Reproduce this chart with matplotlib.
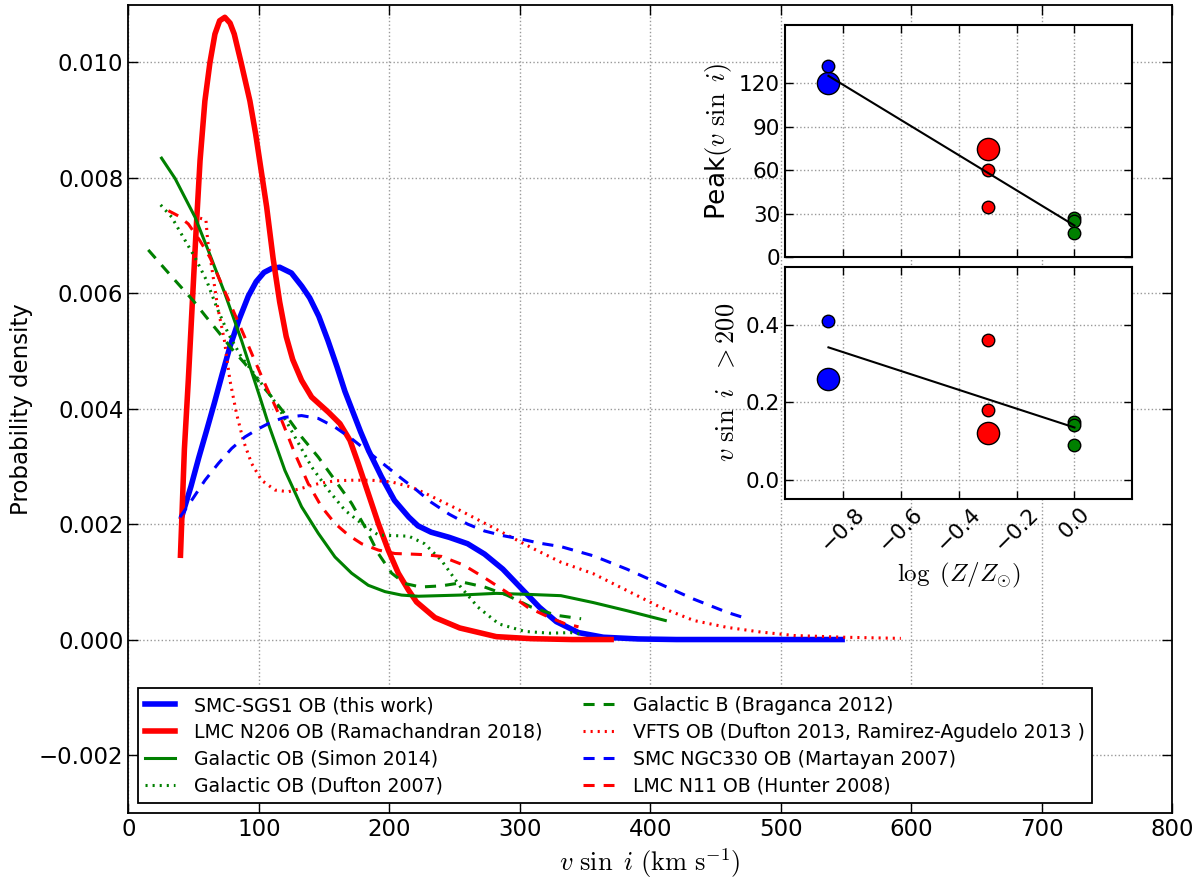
import numpy as np
import matplotlib
matplotlib.use('Agg')
import matplotlib.pyplot as plt

plt.rcParams['font.family'] = ['DejaVu Sans']
plt.rcParams['mathtext.fontset'] = 'cm'
plt.rcParams['lines.scale_dashes'] = False
plt.rcParams['xtick.direction'] = 'in'
plt.rcParams['ytick.direction'] = 'in'
plt.rcParams['xtick.top'] = True
plt.rcParams['ytick.right'] = True

# vsini distributions (x in km/s, y in units of 1e-3)
sgs1_x = [41, 48, 54, 60, 66, 72, 78, 85, 92, 98, 104, 110, 116, 125, 133, 139, 146, 153, 160, 166, 172, 178,
          184, 194, 204, 215, 222, 232, 246, 260, 273, 287, 301, 315, 328, 345, 364, 391, 420, 460, 500, 547]
sgs1_y = [2.13, 2.65, 3.15, 3.62, 4.1, 4.6, 5.08, 5.55, 5.95, 6.2, 6.36, 6.43, 6.45, 6.35, 6.12, 5.92, 5.6,
          5.18, 4.72, 4.3, 3.95, 3.6, 3.28, 2.82, 2.41, 2.12, 1.97, 1.86, 1.77, 1.66, 1.48, 1.22, 0.89, 0.56,
          0.31, 0.12, 0.04, 0.01, 0.0, 0.0, 0.0, 0.0]

n206_x = [40, 43, 46, 49, 52, 55, 58.7, 62.6, 66.4, 70, 74, 78, 81.2, 86.4, 93.2, 97.6, 102, 106, 111, 116,
          121, 126, 132.8, 140.5, 153.3, 162.2, 169.9, 176.2, 183.9, 191.6, 199.2, 206.9, 214.6, 220.9, 235,
          254, 282, 309, 340, 370]
n206_y = [1.46, 3.3, 4.49, 5.8, 7.1, 8.3, 9.33, 10.0, 10.49, 10.72, 10.78, 10.68, 10.49, 10.0, 9.33, 8.76, 8.1,
          7.5, 6.6, 5.85, 5.25, 4.85, 4.49, 4.2, 3.94, 3.74, 3.45, 3.05, 2.53, 2.01, 1.55, 1.15, 0.86, 0.65,
          0.38, 0.20, 0.05, 0.015, 0.0, 0.0]

simon_x = [25.5, 35.8, 51.1, 61.3, 74.1, 86.8, 95.8, 101.7, 107.3, 120, 132.8, 145.6, 158.4, 171.1, 183.9,
           196.7, 209.4, 222.2, 254, 282, 309, 331.5, 356.4, 382, 411.5]
simon_y = [8.34, 7.99, 7.32, 6.74, 5.99, 5.18, 4.55, 4.14, 3.74, 2.93, 2.30, 1.84, 1.43, 1.15, 0.94,
           0.83, 0.77, 0.75, 0.77, 0.80, 0.78, 0.76, 0.64, 0.50, 0.33]

dufton07_x = [24.8, 33.2, 42.1, 51.1, 60, 67.7, 76.6, 86.8, 98.3, 109.8, 114.9, 127.7, 140.5, 153.3, 166,
              178.8, 191.6, 204.4, 215, 227, 240, 254, 268, 284, 304, 323, 339, 349]
dufton07_y = [7.53, 7.32, 6.97, 6.62, 6.22, 5.76, 5.30, 4.89, 4.55, 4.20, 4.03, 3.51, 2.99, 2.59, 2.24,
              2.01, 1.81, 1.80, 1.79, 1.66, 1.37, 0.93, 0.56, 0.27, 0.14, 0.11, 0.12, 0.09]

braganca_x = [15.3, 28.1, 38.3, 49.8, 60, 69, 79.2, 89.4, 99.6, 110, 120, 132.8, 145.6, 158.4, 171.1, 181.4,
              191.6, 201.8, 212, 224, 240, 257, 273, 290, 309, 328, 347]
braganca_y = [6.75, 6.42, 6.16, 5.87, 5.58, 5.33, 5.04, 4.78, 4.48, 4.2, 3.91, 3.51, 3.16, 2.76, 2.36, 1.95,
              1.49, 1.15, 0.97, 0.91, 0.93, 0.99, 0.91, 0.77, 0.56, 0.42, 0.36]

vfts_x = [55, 59.5, 60.8, 64.6, 68.4, 73.6, 77.9, 83, 88.1, 94.5, 102.1, 112.4, 122.6, 132.8, 145.6, 158.4,
          171.1, 186.4, 201.8, 217.1, 227, 254, 282, 309, 331.5, 356.4, 382, 407.7, 433.3, 459, 484.6, 510,
          548.7, 592]
vfts_y = [7.3, 7.27, 6.92, 6.35, 5.77, 5.19, 4.49, 3.91, 3.45, 3.05, 2.76, 2.59, 2.56, 2.62, 2.70, 2.75,
          2.76, 2.76, 2.73, 2.64, 2.54, 2.24, 1.91, 1.59, 1.34, 1.14, 0.85, 0.56, 0.33, 0.21, 0.13, 0.07,
          0.04, 0.02]

ngc330_x = [39.6, 48.5, 58.8, 69, 79.2, 89.4, 99.6, 109.8, 120, 132.8, 145.6, 158.4, 171.1, 183.9, 196.7,
            209.4, 220.9, 232, 246, 260, 273, 287, 301, 315, 331.5, 356.4, 382, 407.7, 433.3, 459, 474.4]
ngc330_y = [2.12, 2.41, 2.76, 3.05, 3.31, 3.51, 3.65, 3.77, 3.85, 3.88, 3.83, 3.68, 3.48, 3.25, 3.02,
            2.79, 2.59, 2.38, 2.17, 2.0, 1.88, 1.8, 1.74, 1.67, 1.61, 1.45, 1.22, 0.96, 0.70, 0.47, 0.36]

n11_x = [30.7, 38.3, 46, 54.9, 62.6, 70.3, 79.2, 88.1, 95.8, 104.7, 117.5, 127.7, 137.9, 148.1, 158.4, 168.6,
         178.8, 191.6, 204.4, 217.1, 227, 240, 257, 273, 290, 306, 323, 334, 345]
n11_y = [7.43, 7.34, 7.20, 6.91, 6.62, 6.22, 5.76, 5.30, 4.89, 4.43, 3.80, 3.22, 2.70, 2.30, 2.01, 1.81,
         1.66, 1.55, 1.49, 1.48, 1.47, 1.44, 1.29, 1.07, 0.82, 0.56, 0.38, 0.28, 0.22]

# inset: metallicity trends
logz_smc, logz_lmc, logz_gal = -0.85, -0.30, 0.0
peak_sgs1, peak_n206 = 120, 75
peak_smc = [132]
peak_lmc = [60, 35]
peak_gal = [27, 25, 17]
frac_sgs1, frac_n206 = 0.26, 0.12
frac_smc = [0.41]
frac_lmc = [0.36, 0.18]
frac_gal = [0.15, 0.14, 0.09]

DASH = (0, (8, 6.5))
DOT = (0, (1.5, 3.6))
E = 1e-3
THIN = 2.2

fig = plt.figure(figsize=(12, 8.85), dpi=100)
ax = fig.add_axes([0.1069, 0.0817, 0.87, 0.9131])

ax.plot(sgs1_x, np.array(sgs1_y) * E, color='b', lw=4, label='SMC-SGS1 OB (this work)')
ax.plot(n206_x, np.array(n206_y) * E, color='r', lw=4, label='LMC N206 OB (Ramachandran 2018)')
ax.plot(simon_x, np.array(simon_y) * E, color='g', lw=THIN, label='Galactic OB (Simon 2014)')
ax.plot(dufton07_x, np.array(dufton07_y) * E, color='g', lw=THIN, ls=DOT, label='Galactic OB (Dufton 2007)')
ax.plot(braganca_x, np.array(braganca_y) * E, color='g', lw=THIN, ls=DASH, label='Galactic B (Braganca 2012)')
ax.plot(vfts_x, np.array(vfts_y) * E, color='r', lw=THIN, ls=DOT,
        label='VFTS OB (Dufton 2013, Ramirez-Agudelo 2013 )')
ax.plot(ngc330_x, np.array(ngc330_y) * E, color='b', lw=THIN, ls=DASH, label='SMC NGC330 OB (Martayan 2007)')
ax.plot(n11_x, np.array(n11_y) * E, color='r', lw=THIN, ls=DASH, label='LMC N11 OB (Hunter 2008)')

ax.set_xlim(0, 800)
ax.set_ylim(-0.003, 0.011)
yt = [-0.002, 0.0, 0.002, 0.004, 0.006, 0.008, 0.010]
ax.set_yticks(yt)
ax.set_yticklabels([f'{v:.3f}'.replace('-', '\u2212') for v in yt])
ax.tick_params(labelsize=16.5, length=7, width=1)
ax.grid(True, color='0.6', ls=':', lw=1)
for s in ax.spines.values():
    s.set_linewidth(1.3)
ax.set_xlabel(r'$v\ \sin\ i\ (\mathrm{km\ s^{-1}})$', fontsize=19)
ax.set_ylabel('Probability density', fontsize=16.5)

leg = ax.legend(ncol=2, loc='lower left', bbox_to_anchor=(0.009, 0.0115), borderaxespad=0,
                fontsize=13.6, fancybox=False, framealpha=1, edgecolor='k', handlelength=1.6,
                handletextpad=1.0, columnspacing=2.15, labelspacing=0.42)
leg.get_frame().set_linewidth(1.3)

# inset panels
ax1 = fig.add_axes([0.6542, 0.7093, 0.2894, 0.2621])
ax2 = fig.add_axes([0.6542, 0.4362, 0.2894, 0.2625])

small, big = 9, 16
xs = np.array([logz_smc, logz_smc] + [logz_lmc] * 3 + [logz_gal] * 3)

for a, vals in [(ax1, (peak_sgs1, peak_smc, peak_n206, peak_lmc, peak_gal)),
                (ax2, (frac_sgs1, frac_smc, frac_n206, frac_lmc, frac_gal))]:
    sg, sm, ng, lm, gl = vals
    a.plot([logz_smc], [sg], 'o', color='b', mec='k', mew=1, ms=big)
    a.plot([logz_smc] * len(sm), sm, 'o', color='b', mec='k', mew=1, ms=small)
    a.plot([logz_lmc], [ng], 'o', color='r', mec='k', mew=1, ms=big)
    a.plot([logz_lmc] * len(lm), lm, 'o', color='r', mec='k', mew=1, ms=small)
    a.plot([logz_gal] * len(gl), gl, 'o', color='g', mec='k', mew=1, ms=small)
    # least-squares trend over all samples
    ys = np.array([sg] + list(sm) + [ng] + list(lm) + list(gl))
    k, b0 = np.polyfit(xs, ys, 1)
    a.plot([logz_smc, logz_gal], [k * logz_smc + b0, k * logz_gal + b0], color='k', lw=1.5, zorder=5)
    a.set_xlim(-1.0, 0.2)
    a.set_xticks([-0.8, -0.6, -0.4, -0.2, 0.0])
    a.grid(True, color='0.6', ls=':', lw=1)
    a.tick_params(labelsize=15.5, length=6, width=1)
    for s in a.spines.values():
        s.set_linewidth(1.5)

ax1.set_ylim(0, 160)
ax1.set_yticks([0, 30, 60, 90, 120])
ax1.tick_params(labelbottom=False)
ax1.set_ylabel(r'Peak$(v\ \sin\ i)$', fontsize=19)

ax2.set_ylim(-0.05, 0.55)
ax2.set_yticks([0.0, 0.2, 0.4])
ax2.set_yticklabels(['0.0', '0.2', '0.4'])
for lab in ax2.get_xticklabels():
    lab.set_rotation(45)
ax2.set_xlabel(r'$\log\ (Z/Z_{\odot})$', fontsize=18)
ax2.set_ylabel(r'$v\ \sin\ i\ \ {>}200$', fontsize=19)

fig.savefig('out.png', dpi=100)
